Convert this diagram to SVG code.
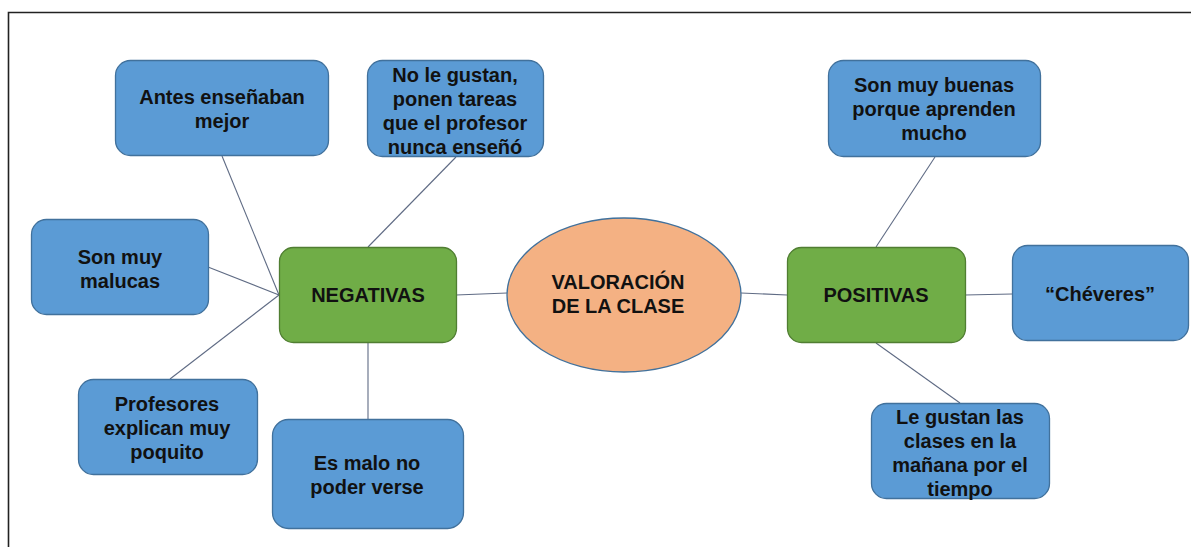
<svg xmlns="http://www.w3.org/2000/svg" width="1191" height="547" viewBox="0 0 1191 547">
<style>
.box{fill:#5B9BD5;stroke:#41719C;stroke-width:1.3}
.cat{fill:#70AD47;stroke:#507E32;stroke-width:1.3}
.core{fill:#F4B183;stroke:#41719C;stroke-width:1.3}
.t{font-family:"Liberation Sans",Arial,sans-serif;font-weight:bold;font-size:20px;fill:#111;text-anchor:middle}
.c line{stroke:#5F6B84;stroke-width:1.1}
</style>
<rect width="1191" height="547" fill="#fff"/>
<path d="M8.5 547V12.5H1191" fill="none" stroke="#222" stroke-width="1.6"/>
<g class="c" id="connectors">
<line x1="222" y1="156" x2="279" y2="295"/>
<line x1="208" y1="267" x2="279" y2="295"/>
<line x1="170" y1="379" x2="279" y2="295"/>
<line x1="456" y1="157" x2="368" y2="247"/>
<line x1="368" y1="342" x2="368" y2="419"/>
<line x1="456" y1="295" x2="507" y2="293"/>
<line x1="741" y1="293" x2="787" y2="295"/>
<line x1="965" y1="295" x2="1012" y2="294"/>
<line x1="935" y1="157" x2="876" y2="247"/>
<line x1="876" y1="343" x2="960" y2="403"/>
</g>
<g id="n-antes"><rect class="box" x="115.5" y="60.5" width="213" height="95" rx="15"/><text class="t" x="222" y="104">Antes enseñaban</text><text class="t" x="222" y="128">mejor</text></g>
<g id="n-nolegustan"><rect class="box" x="367.5" y="60.5" width="176" height="96" rx="15"/><text class="t" x="455" y="82">No le gustan,</text><text class="t" x="455" y="106">ponen tareas</text><text class="t" x="455" y="130">que el profesor</text><text class="t" x="455" y="154">nunca enseñó</text></g>
<g id="n-malucas"><rect class="box" x="31.5" y="219.5" width="177" height="95" rx="15"/><text class="t" x="120" y="264">Son muy</text><text class="t" x="120" y="288">malucas</text></g>
<g id="n-negativas"><rect class="cat" x="279.5" y="247.5" width="177" height="95" rx="14"/><text class="t" x="368" y="302">NEGATIVAS</text></g>
<g id="n-profesores"><rect class="box" x="78.5" y="379.5" width="179" height="95" rx="15"/><text class="t" x="167" y="411">Profesores</text><text class="t" x="167" y="435">explican muy</text><text class="t" x="167" y="459">poquito</text></g>
<g id="n-esmalo"><rect class="box" x="272.5" y="419.5" width="191" height="109" rx="16"/><text class="t" x="367" y="470">Es malo no</text><text class="t" x="367" y="494">poder verse</text></g>
<g id="n-valoracion"><ellipse class="core" cx="624" cy="295" rx="117" ry="77"/><text class="t" x="618" y="289">VALORACIÓN</text><text class="t" x="618" y="313">DE LA CLASE</text></g>
<g id="n-positivas"><rect class="cat" x="787.5" y="247.5" width="178" height="95" rx="14"/><text class="t" x="876" y="302">POSITIVAS</text></g>
<g id="n-buenas"><rect class="box" x="828.5" y="60.5" width="212" height="96" rx="15"/><text class="t" x="934" y="92">Son muy buenas</text><text class="t" x="934" y="116">porque aprenden</text><text class="t" x="934" y="140">mucho</text></g>
<g id="n-cheveres"><rect class="box" x="1012.5" y="245.5" width="176" height="95" rx="15"/><text class="t" x="1100" y="301">“Chéveres”</text></g>
<g id="n-legustan"><rect class="box" x="871.5" y="403.5" width="178" height="95" rx="15"/><text class="t" x="960" y="424">Le gustan las</text><text class="t" x="960" y="448">clases en la</text><text class="t" x="960" y="472">mañana por el</text><text class="t" x="960" y="496">tiempo</text></g>
</svg>
